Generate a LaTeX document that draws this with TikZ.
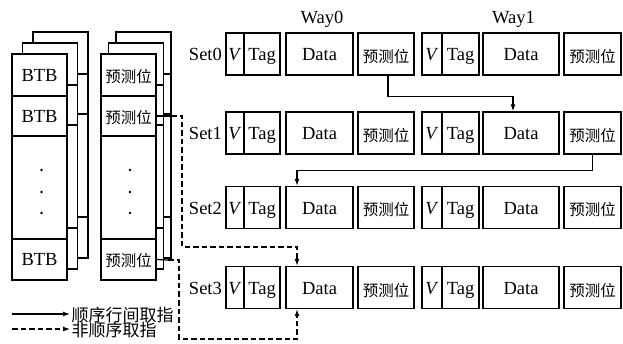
\documentclass[tikz,border=0pt]{standalone}
\usepackage{fontspec}
\setmainfont{Liberation Serif}
\newfontfamily\cjk{Noto Sans CJK SC}
\usetikzlibrary{arrows.meta,calc}
\begin{document}
\begin{tikzpicture}[x=1pt,y=-1pt, line width=1.25pt,
 cell/.style={draw, fill=white, inner sep=0pt, minimum height=42pt, text height=14pt, text depth=0pt, font=\fontsize{18.5}{20}\selectfont},
 pcell/.style={cell, text height=17pt, font=\cjk\fontsize{15.5}{18}\selectfont},
 scell/.style={cell, text height=12.6pt},
 spcell/.style={pcell, text height=15pt},
 lab/.style={inner sep=0pt, text height=14pt, text depth=0pt, font=\fontsize{18.5}{20}\selectfont},
 leg/.style={inner sep=0pt, text height=14pt, text depth=0pt, font=\cjk\fontsize{17}{19}\selectfont},
 arr/.style={-{Latex[length=7pt,width=5pt]}},
 dsh/.style={dash pattern=on 5.5pt off 3pt}]
\fill[white] (0,0) rectangle (623,344);
\useasboundingbox (0,0) rectangle (623,344);

% ---- back layers of the two stacks ----
\foreach \k in {2,1} {
  \begin{scope}[shift={({10.5*\k},{-11*\k})}]
    \draw[fill=white] (12,54) rectangle (67,280);
    \draw (12,96) -- (67,96) (12,136) -- (67,136) (12,239) -- (67,239);
  \end{scope}
  \begin{scope}[shift={({7.5*\k},{-11*\k})}]
    \draw[fill=white] (101,54) rectangle (156,280);
    \draw (101,96) -- (156,96) (101,136) -- (156,136) (101,239) -- (156,239);
  \end{scope}
}

% ---- front layers ----
\node[scell, minimum width=55pt, minimum height=42pt] (b1) at (39.5,75) {BTB};
\node[scell, minimum width=55pt, minimum height=40pt] (b2) at (39.5,116) {BTB};
\node[scell, minimum width=55pt, minimum height=103pt] (b3) at (39.5,187.5) {};
\node[scell, minimum width=55pt, minimum height=41pt] (b4) at (39.5,259.5) {BTB};
\node[spcell, minimum width=55pt, minimum height=42pt] (p1) at (128.5,75) {预测位};
\node[spcell, minimum width=55pt, minimum height=40pt] (p2) at (128.5,116) {预测位};
\node[spcell, minimum width=55pt, minimum height=103pt] (p3) at (128.5,187.5) {};
\node[spcell, minimum width=55pt, minimum height=41pt] (p4) at (128.5,259.5) {预测位};
\foreach \yy in {170,192,213} {
  \fill (41.5,\yy) circle (1.4pt);
  \fill (130,\yy) circle (1.4pt);
}

% ---- cache sets ----
\node[lab] (w0) at (322,17) {Way0};
\node[lab] (w1) at (513.5,17) {Way1};
\foreach \r/\yc in {0/54,1/133,2/207.5,3/287.5} {
  \node[lab, anchor=east] (s\r) at (222.5,\yc) {Set\r};
  \node[cell, minimum width=18pt] (v0\r) at (235,\yc) {\textit{V}};
  \node[cell, minimum width=36pt] (t0\r) at (262,\yc) {Tag};
  \node[cell, minimum width=67pt] (d0\r) at (319.5,\yc) {Data};
  \node[pcell, minimum width=56pt] (q0\r) at (386,\yc) {预测位};
  \node[cell, minimum width=20pt] (v1\r) at (432,\yc) {\textit{V}};
  \node[cell, minimum width=37pt] (t1\r) at (460.5,\yc) {Tag};
  \node[cell, minimum width=76pt] (d1\r) at (521,\yc) {Data};
  \node[pcell, minimum width=57pt] (q1\r) at (592.5,\yc) {预测位};
}

% ---- sequential fetch arrows ----
\draw[arr] ([xshift=2pt]q00.south) -- ++(0,21) -| ([xshift=-8pt]d11.north);
\draw[arr] (q11.south) -- ++(0,16) -| ([xshift=-22.5pt]d02.north);

% ---- non-sequential fetch arrows ----
\coordinate (c1) at (171,116);
\coordinate (c2) at (168,260);
\draw (p2.east) -- (c1);
\draw[dsh, arr] (c1) -- (182,116) -- (182,247) -| ([xshift=-22.5pt]d03.north);
\draw (p4.east) -- (c2);
\draw[dsh, arr] (c2) -- (179,260) -- (179,339) -| ([xshift=-22.5pt]d03.south);

% ---- legend ----
\coordinate (la) at (12,314);
\coordinate (lb) at (70,314);
\coordinate (lc) at (12,329);
\coordinate (ld) at (70,329);
\draw[arr] (la) -- (lb);
\draw[arr, dsh] (lc) -- (ld);
\node[leg, anchor=west] (lt1) at (71,314) {顺序行间取指};
\node[leg, anchor=west] (lt2) at (71,329.5) {非顺序取指};
\end{tikzpicture}
\end{document}
